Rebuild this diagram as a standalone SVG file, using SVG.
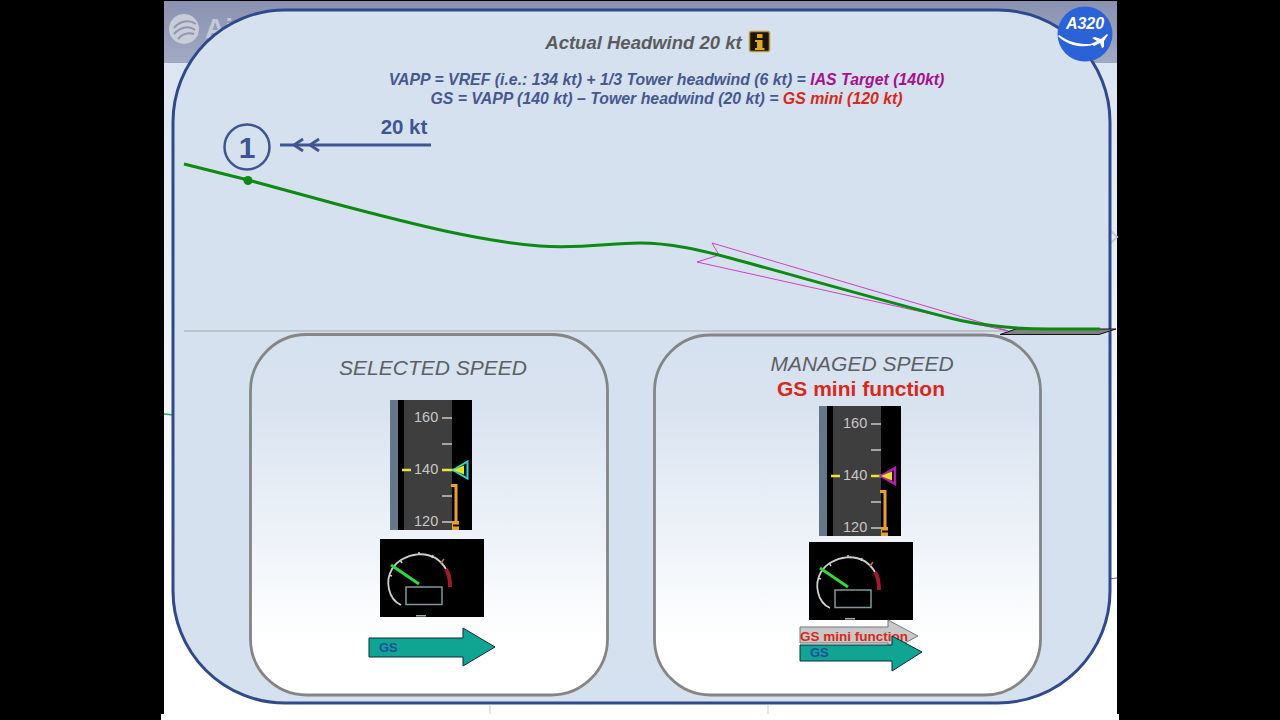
<svg xmlns="http://www.w3.org/2000/svg" width="1280" height="720" viewBox="0 0 1280 720">
<style>
text{font-family:"Liberation Sans",Arial,sans-serif}
.eq{font-size:15.85px;font-weight:bold;font-style:italic;fill:#46588f}
.panel{fill:url(#pg);stroke:#858585;stroke-width:2.800}
.tape{font-size:14.5px;fill:#c8c8c8}
.ptitle{font-size:21px;font-style:italic;fill:#5c5f66;text-anchor:middle}
.tick{stroke:#c8c8c8;stroke-width:1.5}
.arrow{fill:#10a593;stroke:#0c2a36;stroke-width:1}
.gs{font-size:13px;font-weight:bold;fill:#1f4f9a}
</style>
<defs>
<linearGradient id="pg" x1="0" y1="0" x2="0" y2="1"><stop offset="0" stop-color="#d6e1ef"/><stop offset="0.2" stop-color="#d9e3f0"/><stop offset="0.85" stop-color="#ffffff"/></linearGradient>
<linearGradient id="top" x1="0" y1="0" x2="0" y2="1"><stop offset="0" stop-color="#8a92b1"/><stop offset="1" stop-color="#a1a9c3"/></linearGradient>
<linearGradient id="body" x1="0" y1="0" x2="0" y2="1"><stop offset="0" stop-color="#dce5f2"/><stop offset="0.8" stop-color="#ffffff"/></linearGradient>
<g id="tape">
<rect x="0" y="0" width="82" height="130" fill="#000"/>
<rect x="0" y="0" width="8" height="130" fill="#64788a"/>
<rect x="14" y="0" width="48" height="130" fill="#3e3e3e"/>
<text class="tape" x="24" y="22">160</text>
<text class="tape" x="24" y="74">140</text>
<text class="tape" x="24" y="126">120</text>
<line class="tick" x1="52" y1="18" x2="62" y2="18"/>
<line class="tick" x1="52" y1="44" x2="62" y2="44"/>
<line class="tick" x1="52" y1="96" x2="62" y2="96"/>
<line class="tick" x1="52" y1="122" x2="62" y2="122"/>
<line x1="12" y1="70" x2="21" y2="70" stroke="#e8e43c" stroke-width="2.500"/>
<line x1="52" y1="70" x2="66" y2="70" stroke="#e8e43c" stroke-width="2.500"/>
<path d="M61 85.500H66V122" fill="none" stroke="#e8a030" stroke-width="3"/>
<rect x="62" y="121" width="7" height="9" fill="#e8a030"/><rect x="63" y="124.500" width="6" height="2" fill="#111"/>
</g>
<g id="dial">
<rect x="0" y="0" width="104" height="78" fill="#000"/>
<path d="M21 66C8 60 5 42 12 30C22 14 52 7 66 30" fill="none" stroke="#cfcfcf" stroke-width="1.800"/>
<path d="M9 36L12 37M20 21L22 24M39 13V16M53 16L52 19" fill="none" stroke="#cfcfcf" stroke-width="1.500"/>
<path d="M66 30C70 36 70 42 70 48" fill="none" stroke="#a21a2e" stroke-width="4"/>
<line x1="11" y1="26" x2="39" y2="45" stroke="#35d83a" stroke-width="3"/>
<rect x="26" y="48" width="36" height="17.500" fill="none" stroke="#7d9a98" stroke-width="1.500"/>
<rect x="36" y="76" width="10" height="1.500" fill="#aaa"/>
<line x1="64" y1="20" x2="61" y2="24" stroke="#b5793e" stroke-width="1.500"/>
</g>
</defs>

<rect id="backdrop" width="1280" height="720" fill="#000"/>
<g id="slide">
<rect x="164" y="63" width="953" height="652" fill="url(#body)"/>
<rect x="164" y="1" width="953" height="62" fill="url(#top)"/>
<rect x="161" y="714" width="958" height="6" fill="#fff"/>
<circle cx="184" cy="29" r="15" fill="#c9cdd8"/>
<path d="M174 28C180 20 190 20 196 24M174 34C181 26 190 26 195 30M178 39C184 32 191 33 194 34" fill="none" stroke="#8f96ad" stroke-width="2"/>
<text x="205" y="38" font-size="28" font-weight="bold" fill="#c4c9d6">Ai</text>
<line x1="164" y1="414" x2="174" y2="415" stroke="#3aa35a" stroke-width="1.500"/>
<line x1="490" y1="705" x2="490" y2="714" stroke="#ccc"/>
<line x1="768" y1="705" x2="768" y2="714" stroke="#ccc"/>
<line x1="1108" y1="579" x2="1117" y2="578" stroke="#667"/>
<path d="M1111 231L1117 237L1111 243" fill="none" stroke="#c3cbdd" stroke-width="2"/>
</g>

<rect id="main" x="173" y="10" width="937" height="693" rx="112" ry="112" fill="#d6e1ef" stroke="#2f4a8c" stroke-width="3"/>

<g id="title">
<text x="643.500" y="49" font-size="18.500" font-weight="bold" font-style="italic" fill="#5a5c60" text-anchor="middle">Actual Headwind 20 kt</text>
<rect x="749.500" y="31.500" width="20" height="20" rx="2" fill="#1a1408" stroke="#b8963a" stroke-width="1.500"/>
<rect x="757" y="34" width="5.500" height="4" fill="#e0a820"/><path d="M755 40H762.500V48H764.500V50H755V48H757V42H755Z" fill="#e0a820"/>
</g>
<g id="equations">
<text class="eq" x="666.500" y="85" text-anchor="middle">VAPP = VREF (i.e.: 134 kt) + 1/3 Tower headwind (6 kt) = <tspan fill="#a5108c">IAS Target (140kt)</tspan></text>
<text class="eq" x="666.500" y="104" text-anchor="middle">GS = VAPP (140 kt) – Tower headwind (20 kt) = <tspan fill="#d8281a">GS mini (120 kt)</tspan></text>
</g>

<g id="logo">
<circle cx="1085" cy="34" r="27.500" fill="#2c62d8"/>
<path d="M1058 36C1068 47 1088 49 1096 43C1088 45 1072 45 1059 35Z" fill="#fff"/>
<path d="M1091 44L1097 41L1092 38L1095 37L1101 39L1107 34L1108 35L1104 41L1104 47L1102 48L1100 43L1094 46Z" fill="#fff"/>
<text x="1085" y="29" font-size="16" font-weight="bold" font-style="italic" fill="#fff" text-anchor="middle">A320</text>
</g>

<g id="node-1">
<circle cx="247" cy="147" r="22.500" fill="none" stroke="#3f5593" stroke-width="2.500"/>
<text x="247" y="157.500" font-size="30" font-weight="bold" fill="#3f5593" text-anchor="middle">1</text>
</g>
<g id="wind">
<text x="404" y="134" font-size="20.500" font-weight="bold" fill="#3f5593" text-anchor="middle">20 kt</text>
</g>

<g id="connectors">
<g fill="none" stroke="#3f5593" stroke-width="2.800">
<line x1="280" y1="145" x2="431" y2="145"/>
<path d="M303 139L294 145L303 151M319 139L310 145L319 151"/>
</g>
<line x1="184" y1="331" x2="1110" y2="331" stroke="#b4b8bd" stroke-width="1.500"/>
<path d="M1000 334.500L1016 329H1116L1099 334.500Z" fill="#808080" stroke="#111" stroke-width="1"/>
<path d="M712 243L719 255L697 262L1008 331L983 323Z" fill="none" stroke="#cf3fc4" stroke-width="1"/>
<path d="M184 164L248 180L340 205C420 226 480 241 540 246C580 249 610 243 640 243C670 243 700 250 730 258C800 277 880 300 950 318C965 322 985 325 1005 327C1020 328.500 1035 329 1050 329H1100" fill="none" stroke="#0c8a12" stroke-width="3"/>
<circle cx="248" cy="180.500" r="4.500" fill="#0c8a12"/>
</g>

<g id="panel-selected">
<rect class="panel" x="250.500" y="334.500" width="357" height="360.500" rx="56"/>
<text class="ptitle" x="433" y="375">SELECTED SPEED</text>
<use href="#tape" x="390" y="400"/>
<path d="M453 470L467.500 461.500V478.500Z" fill="#111" stroke="#25d8d8" stroke-width="2"/>
<path d="M453 470L464 465.500V474.500Z" fill="#e8e020"/>
<use href="#dial" x="380" y="539"/>
<path class="arrow" d="M369 638H463V628L495 647L463 666V657H369Z"/>
<text class="gs" x="379" y="652">GS</text>
</g>

<g id="panel-managed">
<rect class="panel" x="654.500" y="335" width="386" height="360" rx="56"/>
<text class="ptitle" x="862" y="371">MANAGED SPEED</text>
<text x="861" y="396" font-size="21" font-weight="bold" fill="#d8281a" text-anchor="middle">GS mini function</text>
<use href="#tape" x="819" y="406"/>
<path d="M881 476L895 468V484Z" fill="#111" stroke="#b51fb0" stroke-width="2.500"/>
<path d="M881 476L892 471.500V480.500Z" fill="#e8e020"/>
<use href="#dial" x="809" y="542"/>
<path d="M800 627H888V620L918 636L888 652V643H800Z" fill="#c8c8c8" stroke="#777" stroke-width="1"/>
<text x="800" y="641" font-size="13.500" font-weight="bold" fill="#d8281a">GS mini function</text>
<path class="arrow" d="M800 645H892V636L922 652L892 671V661H800Z"/>
<text class="gs" x="810" y="657">GS</text>
</g>
</svg>
